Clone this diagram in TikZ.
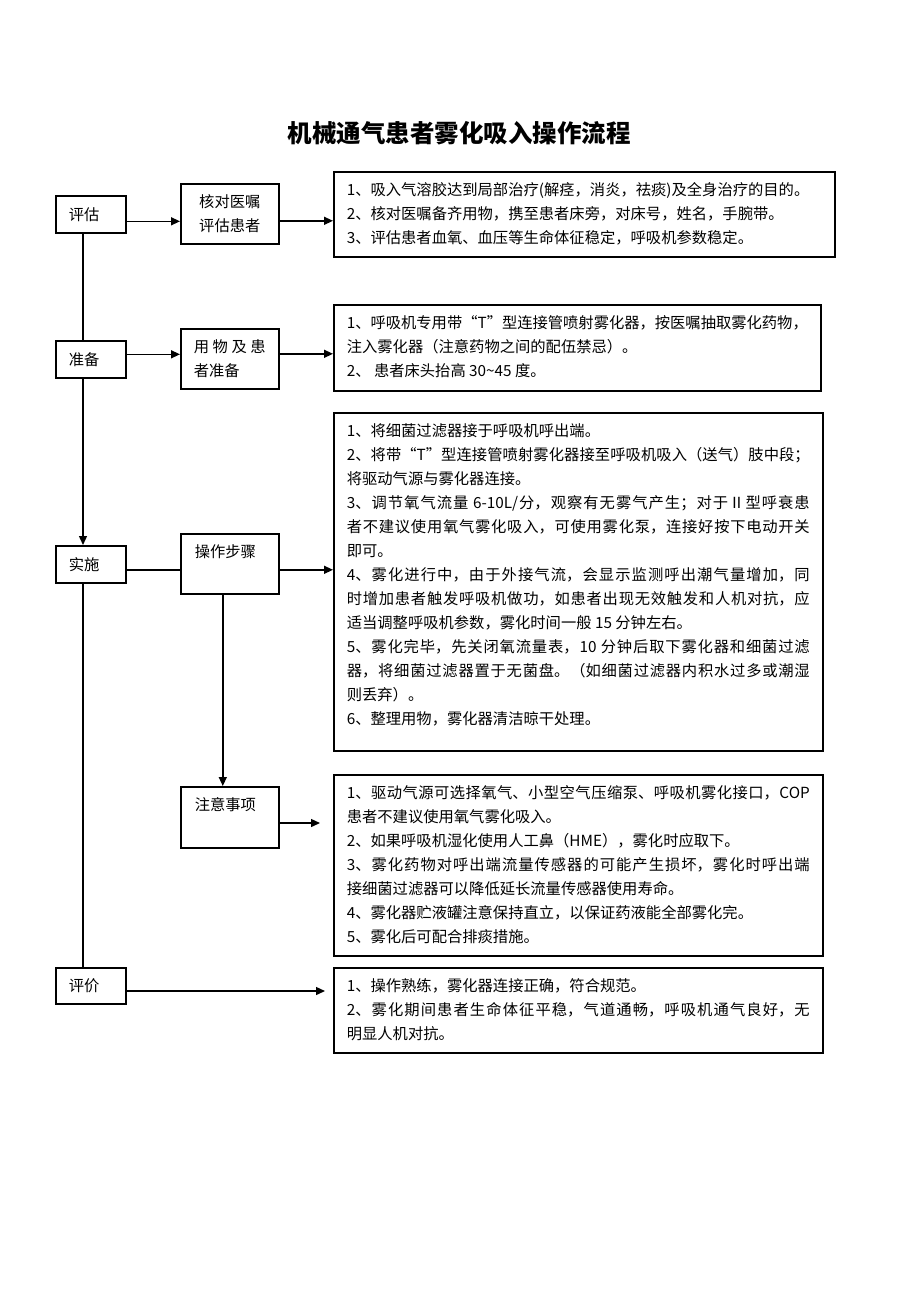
\documentclass[tikz,border=0pt]{standalone}
\usepackage{fontspec}
\setmainfont{Noto Sans CJK SC}
\usetikzlibrary{arrows.meta}
\XeTeXlinebreaklocale "zh"
\XeTeXlinebreakskip=0pt plus 1.5pt minus 0.6pt
\newcommand{\bodysize}{\fontsize{15.3pt}{24pt}\selectfont}
\newcommand{\txtbox}[3]{\parbox[c][#2][t]{#1}{\tolerance=10000\parindent=0pt\parskip=0pt\vspace*{11pt}#3}}
\tikzset{
  box/.style={draw, line width=1.6pt, anchor=north west, inner sep=0pt, font=\bodysize},
  tbox/.style={box, inner xsep=13pt, inner ysep=0pt},
  conn/.style={line width=1.4pt},
  arr/.style={conn, -{Triangle[length=9pt,width=8pt]}},
}
\begin{document}
\begin{tikzpicture}[x=1pt,y=-1pt]
\useasboundingbox[fill=white] (0,0) rectangle (920,1302);

\node[font=\fontsize{24.5pt}{28pt}\selectfont\bfseries] (title) at (459,133) {机械通气患者雾化吸入操作流程};

% left column
\node[box, minimum width=70pt, minimum height=37pt] (pg) at (55,195) {\makebox[44pt][l]{评估}};
\node[box, minimum width=70pt, minimum height=37pt] (zb) at (55,340) {\makebox[44pt][l]{准备}};
\node[box, minimum width=70pt, minimum height=37pt] (ss) at (55,545) {\makebox[44pt][l]{实施}};
\node[box, minimum width=70pt, minimum height=36pt] (pj) at (55,967) {\makebox[44pt][l]{评价}};

% middle column
\node[box, minimum width=98pt, minimum height=60pt, align=center] (hd) at (180,183) {核对医嘱\\评估患者};
\node[box, minimum width=98pt, minimum height=60pt, align=left] (yw) at (180,328) {\makebox[72pt][s]{用\hfill 物\hfill 及\hfill 患}\\者准备};
\node[box] (cz) at (180,533) {\parbox[c][60pt][t]{98pt}{\vspace*{11pt}\hspace*{14pt}操作步骤}};
\node[box] (zy) at (180,786) {\parbox[c][61pt][t]{98pt}{\vspace*{11pt}\hspace*{14pt}注意事项}};

% right column
\node[tbox] (r1) at (333,171) {\txtbox{475pt}{85pt}{%
1、吸入气溶胶达到局部治疗(解痉，消炎，祛痰)及全身治疗的目的。\par
2、核对医嘱备齐用物，携至患者床旁，对床号，姓名，手腕带。\par
3、评估患者血氧、血压等生命体征稳定，呼吸机参数稳定。\par}};

\node[tbox] (r2) at (333,304) {\txtbox{461pt}{86pt}{%
1、呼吸机专用带“T”型连接管喷射雾化器，按医嘱抽取雾化药物，\linebreak
注入雾化器（注意药物之间的配伍禁忌）。\par
2、 患者床头抬高 30{\char"7E}45 度。\par}};

\node[tbox] (r3) at (333,412) {\txtbox{463pt}{338pt}{%
1、将细菌过滤器接于呼吸机呼出端。\par
2、将带“T”型连接管喷射雾化器接至呼吸机吸入（送气）肢中段；\linebreak
将驱动气源与雾化器连接。\par
3、调节氧气流量 6-10L/分，观察有无雾气产生；对于Ⅱ型呼衰患\linebreak
者不建议使用氧气雾化吸入，可使用雾化泵，连接好按下电动开关\linebreak
即可。\par
4、雾化进行中，由于外接气流，会显示监测呼出潮气量增加，同\linebreak
时增加患者触发呼吸机做功，如患者出现无效触发和人机对抗，应\linebreak
适当调整呼吸机参数，雾化时间一般 15 分钟左右。\par
5、雾化完毕，先关闭氧流量表，10 分钟后取下雾化器和细菌过滤\linebreak
器，将细菌过滤器置于无菌盘。（如细菌过滤器内积水过多或潮湿\linebreak
则丢弃）。\par
6、整理用物，雾化器清洁晾干处理。\par}};

\node[tbox] (r4) at (333,774) {\txtbox{463pt}{181pt}{%
1、驱动气源可选择氧气、小型空气压缩泵、呼吸机雾化接口，COP\linebreak
患者不建议使用氧气雾化吸入。\par
2、如果呼吸机湿化使用人工鼻（HME），雾化时应取下。\par
3、雾化药物对呼出端流量传感器的可能产生损坏，雾化时呼出端\linebreak
接细菌过滤器可以降低延长流量传感器使用寿命。\par
4、雾化器贮液罐注意保持直立，以保证药液能全部雾化完。\par
5、雾化后可配合排痰措施。\par}};

\node[tbox] (r5) at (333,967) {\txtbox{463pt}{85pt}{%
1、操作熟练，雾化器连接正确，符合规范。\par
2、雾化期间患者生命体征平稳，气道通畅，呼吸机通气良好，无\linebreak
明显人机对抗。\par}};

% connectors
\coordinate (vx) at (83,0);
\coordinate (zyend) at (320,823);
\coordinate (pjend) at (325,991);
\draw[conn] (pg.south -| vx) -- (zb.north -| vx);
\draw[arr] (zb.south -| vx) -- (ss.north -| vx);
\draw[conn] (ss.south -| vx) -- (pj.north -| vx);

\draw[arr] ([yshift=-7pt]pg.east) -- ([yshift=-7pt]pg.east -| hd.west);
\draw[arr] ([yshift=-7pt]hd.east) -- ([yshift=-7pt]hd.east -| r1.west);
\draw[arr] ([yshift=5pt]zb.east) -- ([yshift=5pt]zb.east -| yw.west);
\draw[arr] ([yshift=5pt]yw.east) -- ([yshift=5pt]yw.east -| r2.west);
\draw[conn] ([yshift=-5.5pt]ss.east) -- ([yshift=-5.5pt]ss.east -| cz.west);
\draw[arr] ([yshift=-6pt]cz.east) -- ([yshift=-6pt]cz.east -| r3.west);
\draw[arr] ([xshift=-7pt]cz.south) -- ([xshift=-7pt]zy.north);
\draw[arr] (zy.east |- zyend) -- (zyend);
\draw[arr] (pj.east |- pjend) -- (pjend);
\end{tikzpicture}
\end{document}
